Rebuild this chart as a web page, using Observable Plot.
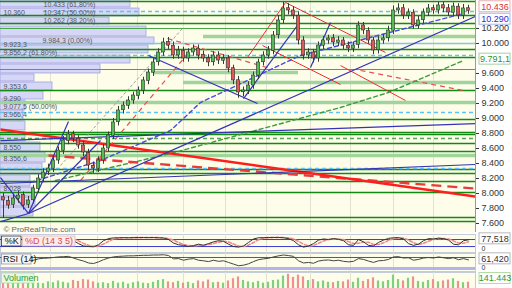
<!DOCTYPE html>
<html><head><meta charset="utf-8">
<script src="https://cdn.jsdelivr.net/npm/d3@7"></script>
<script src="https://cdn.jsdelivr.net/npm/@observablehq/plot@0.6"></script>
<style>
html,body{margin:0;padding:0;background:#fff;}
#chart{position:relative;width:512px;height:288px;overflow:hidden;font-family:"Liberation Sans",Arial,sans-serif;}
#chart > svg{position:absolute;left:0;overflow:visible;}
</style></head><body><div id="chart"></div>
<script>
// ---------- DATA ----------
const opens  = [7950,7900,7850,7930,7980,7850,7910,8060,8200,8290,8330,8440,8570,8700,8790,8730,8640,8540,8370,8330,8440,8600,8770,8950,9110,9170,9240,9300,9370,9500,9610,9750,9880,10020,9970,9840,9900,9800,9880,9930,9850,9800,9750,9840,9770,9800,9670,9510,9350,9370,9440,9570,9750,9840,9900,10110,10310,10470,10440,10370,10040,9840,9880,9800,9970,10040,10070,10010,10040,9970,9930,9980,10240,10170,10040,9910,10040,10070,10170,10440,10470,10370,10410,10240,10310,10410,10470,10440,10510,10470,10410,10490,10370,10470];
const closes = [7907,7840,7933,7973,7840,7907,8067,8200,8280,8333,8440,8573,8707,8787,8733,8640,8547,8373,8333,8440,8600,8773,8947,9107,9173,9240,9307,9373,9507,9613,9747,9880,10013,9973,9840,9907,9800,9880,9933,9840,9800,9747,9840,9773,9800,9667,9507,9347,9373,9440,9573,9747,9840,9907,10107,10307,10467,10440,10373,10040,9840,9880,9800,9973,10040,10067,10013,10040,9973,9933,9973,10240,10173,10040,9907,10040,10067,10173,10440,10467,10373,10413,10240,10307,10413,10467,10440,10507,10467,10413,10493,10373,10467,10436];
const highs  = [8000,7960,7990,8030,8020,7960,8110,8250,8330,8390,8490,8620,8760,8840,8830,8770,8690,8590,8420,8490,8650,8820,9000,9160,9220,9290,9350,9420,9550,9660,9800,9930,10070,10080,10020,9960,9950,9930,9980,9980,9900,9850,9890,9890,9850,9840,9710,9560,9420,9490,9620,9790,9890,9960,10160,10370,10550,10530,10490,10420,10090,9930,9920,10020,10090,10110,10120,10090,10080,10020,10020,10290,10280,10210,10080,10090,10120,10230,10500,10530,10520,10460,10450,10360,10460,10520,10510,10550,10550,10520,10540,10530,10520,10510];
const lows   = [7670,7790,7800,7870,7780,7800,7860,8010,8150,8240,8280,8390,8520,8650,8680,8590,8490,8310,8270,8280,8390,8550,8720,8900,9060,9120,9190,9250,9320,9450,9560,9700,9830,9920,9790,9790,9750,9750,9830,9780,9750,9690,9700,9720,9720,9610,9450,9270,9290,9320,9390,9520,9700,9790,9850,10060,10260,10380,10320,9980,9780,9790,9740,9750,9920,9990,9960,9960,9920,9880,9880,9930,10120,9990,9850,9860,9990,10020,10120,10390,10320,10320,10190,10190,10260,10360,10390,10390,10410,10360,10360,10320,10320,10390];
const volumes = [150,120,180,140,200,130,160,120,110,150,130,170,140,120,180,160,200,190,150,120,130,110,160,120,140,100,130,150,120,110,140,180,200,150,130,160,120,140,110,170,150,190,130,140,120,170,220,260,180,150,130,160,120,140,180,190,280,320,250,300,260,180,200,150,170,140,130,160,150,190,140,230,160,200,240,170,150,180,300,200,170,230,260,160,140,180,200,150,170,190,220,160,130,141.443];
const stochK = [85,80,82,88,75,80,90,92,94,93,95,96,95,90,70,45,25,20,18,35,70,88,94,95,96,95,96,97,97,96,97,95,93,80,50,35,30,20,28,40,30,45,60,70,65,40,20,15,25,55,85,95,96,97,98,98,95,88,70,35,15,25,45,75,85,80,88,82,70,35,30,80,60,30,25,55,75,90,95,96,85,45,30,40,70,88,85,92,88,75,40,35,70,77.518];
const stochD = [83,82,82,84,82,81,85,88,92,93,94,95,95,94,85,68,47,30,21,24,41,64,84,92,95,95,96,96,97,97,97,96,95,89,74,55,38,28,26,29,33,38,45,58,65,58,42,25,20,32,55,78,92,96,97,98,97,94,84,64,40,25,28,48,68,80,84,83,80,62,45,48,57,57,38,37,52,73,87,94,92,75,53,38,47,66,81,88,88,85,68,50,48,61];
const rsi = [52,48,53,55,48,52,60,65,67,68,70,72,73,74,68,62,57,50,48,54,62,68,72,74,75,76,76,77,78,78,79,79,80,77,65,66,60,64,66,60,58,55,60,56,58,52,46,40,42,47,55,62,65,67,72,76,79,77,74,58,50,52,49,57,60,61,58,60,56,54,56,66,63,57,52,58,59,63,72,73,68,69,60,63,68,70,68,72,69,66,69,62,66,61.42];
const monthIdx = [9.4,18.8,26.8,36,44.4,52.6,61.4,69.4,78,86];
const priceTicks = [7600,7800,8000,8200,8400,8600,8800,9000,9200,9400,9600,10000,10200];
// volume profile (price band low, high, volume in bar units)
const profileLo  = [10480,10360,10253,10093,9987,9867,9733,9600,9493,9373,9253,9107,8973,8840,8693,8560,8413,8253,8093,7960,7827,7693];
const profileHi  = [10573,10466,10346,10226,10080,9973,9840,9720,9587,9480,9360,9240,9107,8960,8813,8680,8547,8400,8240,8080,7947,7813];
const profileVol = [25.4,27.2,21.2,28.6,30.2,29,25.4,19.4,6.2,9.8,8,4.4,4,4.4,4.4,7.4,8.4,7.8,5.4,6,6.4,6];
// horizontal levels
const darkGreenLevels = [10560,10373,10267,9920,9813,9373,8987,8813,8787,8667,8560,8320,8267,8160,8013,7680,7627];
const midGreenLevels = [10200,9653];
const lightGreenBands = [[9613,30,59],[9480,36,94.4],[9213,-0.6,94.4],[8507,-0.6,94.4],[10093,40,94.4]];
const blueDashedLevels = [[10427,8],[9840,-0.6],[9080,-0.6],[8333,-0.6]];
const blueSolidLevels = [10000];
const greenDashedLevels = [8733];
// trend lines: [x1, price1, x2, price2]
const redThick = [[-0.6,8853,94.4,7960]];
const redThickDashed = [[9,8506,94.4,8066]];
const redThin = [[48.8,9813,56.4,10546],[56.4,10546,76.4,9880],[51.8,9973,67.4,9453],[67.4,9706,80.4,9240]];
const redThinDashed = [[71.4,9640,92,9373],[32.8,10066,53.4,9666],[15.4,8173,37.4,9906]];
const blueLines = [[5,7733,94.4,10360],[5,7733,13,8960],[5,7733,19.4,8707],[-0.6,7626,5,7733],[-0.6,8213,5,7733],[-0.6,8706,94.4,8933],[-0.6,8133,94.4,8387],[29,9840,50.8,9200],[48,9266,58.8,10240],[61.4,9680,65.4,10280]];
const grayDashed = [[11.4,8373,35.8,10200]];
const greenMAx = [10.4,33.4,67.4,77,92], greenMAy = [8173,8533,9147,9347,9773];
const blueMAx = [5.4,19.4,33.4,39.4,59.4,92], blueMAy = [8147,8440,8840,9213,9840,10400];
const profileLabels = [[8,10510,"10.433 (61,80%)"],[0,10413,"10.360"],[8,10413,"10.347 (50,00%)"],[8,10305,"10.262 (38,20%)"],[7.8,10040,"9.984,3 (0,00%)"],[0,9985,"9.923,3"],[0,9880,"9.856,2 (61,80%)"],[0,9426,"9.353,6"],[0,9266,"9.290"],[0,9155,"9.077,5 (50,00%)"],[0,9045,"8.966,4"],[0,8613,"8.550"],[0,8466,"8.356,6"],[0,8066,"8.028"]];

// ---------- BUILD ----------
const N = closes.length;
const candles = d3.range(N).map(i => ({i, o: opens[i], h: highs[i], l: lows[i], c: closes[i], v: volumes[i], k: stochK[i], d: stochD[i], r: rsi[i]}));
const profile = profileLo.map((lo, j) => ({lo, hi: profileHi[j], v: profileVol[j]}));
const loc = d3.formatLocale({decimal: ",", thousands: ".", grouping: [3], currency: ["", "€"]});
const fmt0 = loc.format(",.0f");
const W = 512, MR = 37, xDom = [-0.6, 94.4];
const font = "Liberation Sans, Arial, sans-serif";
const cream = "#fdfde9";
const seg = (arr, opts) => Plot.link(arr, {x1: d => d[0], y1: d => d[1], x2: d => d[2], y2: d => d[3], clip: true, ...opts});

function box(value, label, color, border, half, dy, fillC) {
  return [
    Plot.rect([value], {x1: 95.2, x2: 101.4, y1: d => d - half, y2: d => d + half, dy, fill: fillC || "#fff", stroke: border, strokeWidth: 1}),
    Plot.text([value], {x: 98.3, y: d => d, dy, text: () => label, fill: color, fontSize: 9, textAnchor: "middle"})
  ];
}

const mainH = 232, priceDom = [7480, 10573];
const pU = (priceDom[1] - priceDom[0]) / mainH;
const main = Plot.plot({
  width: W, height: mainH, marginLeft: 0, marginRight: MR, marginTop: 0, marginBottom: 0,
  x: {domain: xDom, axis: null}, y: {domain: priceDom, axis: null},
  style: {background: "transparent", fontFamily: font},
  marks: [
    Plot.frame({fill: cream}),
    Plot.ruleX(monthIdx, {stroke: "#e2e2d2"}),
    Plot.rect(profile, {x1: -0.6, x2: "v", y1: "lo", y2: "hi", fill: "#d6d6f6", stroke: "#a0a0e0", strokeWidth: 0.8}),
    Plot.ruleY(lightGreenBands, {y: d => d[0], x1: d => d[1], x2: d => d[2], stroke: "#9fd49a", strokeWidth: 3.5}),
    Plot.ruleY(midGreenLevels, {x1: -0.6, x2: 94.4, stroke: "#4aa64a", strokeWidth: 1.2}),
    Plot.ruleY(darkGreenLevels, {x1: -0.6, x2: 94.4, stroke: "#138a13", strokeWidth: 1.6}),
    Plot.ruleY(blueSolidLevels, {x1: -0.6, x2: 94.4, stroke: "#7cc8f0", strokeWidth: 1.4}),
    Plot.ruleY(blueDashedLevels, {y: d => d[0], x1: d => d[1], x2: 94.4, stroke: "#5cc4f4", strokeWidth: 1.4, strokeDasharray: "4,3"}),
    Plot.ruleY(greenDashedLevels, {x1: -0.6, x2: 94.4, stroke: "#52a852", strokeWidth: 1.4, strokeDasharray: "4,3"}),
    seg(grayDashed, {stroke: "#a0a0a0", strokeWidth: 1, strokeDasharray: "3,2"}),
    Plot.line(greenMAx.map((x, j) => [x, greenMAy[j]]), {x: d => d[0], y: d => d[1], stroke: "#3d9a3d", strokeWidth: 1.4, strokeDasharray: "4,3", clip: true}),
    Plot.line(blueMAx.map((x, j) => [x, blueMAy[j]]), {x: d => d[0], y: d => d[1], stroke: "#4a4ae0", strokeWidth: 1.4, strokeDasharray: "4,3", clip: true}),
    seg(redThinDashed, {stroke: "#e85050", strokeWidth: 1.2, strokeDasharray: "5,4"}),
    seg(redThickDashed, {stroke: "#e83c3c", strokeWidth: 2.4, strokeDasharray: "10,6"}),
    seg(redThick, {stroke: "#ff1e1e", strokeWidth: 2.4}),
    seg(redThin, {stroke: "#ee3030", strokeWidth: 1}),
    seg(blueLines, {stroke: "#3434b8", strokeWidth: 1.2}),
    Plot.ruleX(candles, {x: "i", y1: "l", y2: "h", stroke: "#3a3a3a", strokeWidth: 1}),
    Plot.rect(candles, {x1: d => d.i - 0.32, x2: d => d.i + 0.32, y1: d => d.o, y2: d => (Math.abs(d.c - d.o) < 8 ? d.o + 10 : d.c), fill: d => d.c >= d.o ? "#55bb55" : "#e05a5a", stroke: "#2e2e2e", strokeWidth: 0.6}),
    Plot.text(profileLabels, {x: d => d[0], y: d => d[1], text: d => d[2], textAnchor: "start", fill: "#555", fontSize: 7}),
    Plot.text(["© ProRealTime.com"], {frameAnchor: "bottom-left", dx: 3, dy: -1, fill: "#666", fontSize: 8}),
    Plot.axisY(priceTicks, {anchor: "right", tickFormat: fmt0, tickSize: 3, tickPadding: 3, fontSize: 9, color: "#333"}),
    Plot.ruleX([94.4], {stroke: "#999"}),
    ...box(10436, "10.436", "#e03030", "#e8b0b0", 5.5 * pU, -4),
    ...box(10290, "10.290", "#2a2ad0", "#a8b8e8", 5.5 * pU, -2.5),
    ...box(9791.1, "9.791,1", "#2f8f2f", "#a8d0a8", 5.5 * pU, 0)
  ]
});
main.style.top = "0px";

const stH = 18, stDom = [-31, 123], sU = (stDom[1] - stDom[0]) / stH;
const stoch = Plot.plot({
  width: W, height: stH, marginLeft: 0, marginRight: MR, marginTop: 0, marginBottom: 0,
  x: {domain: xDom, axis: null}, y: {domain: stDom, axis: null},
  style: {background: "transparent", fontFamily: font},
  marks: [
    Plot.frame({fill: cream, stroke: "#c4ccdc"}),
    Plot.ruleX(monthIdx, {stroke: "#e2e2d2"}),
    Plot.ruleY([20, 80], {x1: -0.6, x2: 94.4, stroke: "#3c3cd0", strokeWidth: 1}),
    Plot.line(candles, {x: "i", y: "d", stroke: "#f08a8a", strokeWidth: 1.6, strokeDasharray: "3,2", clip: true}),
    Plot.line(candles, {x: "i", y: "k", stroke: "#333", strokeWidth: 1, clip: true}),
    Plot.rect([0], {x1: -0.3, x2: 3.6, y1: stDom[1] - 2 * sU, y2: stDom[1] - 12 * sU, fill: "#f4f4f4", stroke: "#333", strokeWidth: 0.8}),
    Plot.text(["%K"], {x: 1.65, y: stDom[1] - 7 * sU, text: d => d, fill: "#111", fontSize: 9, textAnchor: "middle"}),
    Plot.rect([0], {x1: 3.9, x2: 14.4, y1: stDom[1] - 2 * sU, y2: stDom[1] - 12 * sU, fill: "#fbecec", stroke: "#e8b8b8", strokeWidth: 0.8}),
    Plot.text(["%D (14 3 5)"], {x: 4.3, y: stDom[1] - 7 * sU, text: d => d, fill: "#e04848", fontSize: 9, textAnchor: "start"}),
    ...box(77.518, "77,518", "#333", "#b8b8b8", 5.5 * sU, -1),
    Plot.text(["0"], {x: 95.6, y: stDom[1] - 14.5 * sU, text: d => d, fill: "#333", fontSize: 7, textAnchor: "start"})
  ]
});
stoch.style.top = "234px";

const rH = 18, rDom = [19, 84.5], rU = (rDom[1] - rDom[0]) / rH;
const rsiPlot = Plot.plot({
  width: W, height: rH, marginLeft: 0, marginRight: MR, marginTop: 0, marginBottom: 0,
  x: {domain: xDom, axis: null}, y: {domain: rDom, axis: null},
  style: {background: "transparent", fontFamily: font},
  marks: [
    Plot.frame({fill: cream, stroke: "#c4ccdc"}),
    Plot.ruleX(monthIdx, {stroke: "#e2e2d2"}),
    Plot.ruleY([30], {x1: -0.6, x2: 94.4, stroke: "#b4b4ec", strokeWidth: 3}),
    Plot.ruleY([70], {x1: -0.6, x2: 94.4, stroke: "#4a4ad4", strokeWidth: 1}),
    Plot.line(candles, {x: "i", y: "r", stroke: "#444", strokeWidth: 1, clip: true}),
    Plot.rect([0], {x1: -0.3, x2: 5.6, y1: rDom[1] - 1 * rU, y2: rDom[1] - 11 * rU, fill: "#f6f6f6", stroke: "#999", strokeWidth: 0.8}),
    Plot.text(["RSI (14)"], {x: -0.1, y: rDom[1] - 6 * rU, text: d => d, fill: "#111", fontSize: 9, textAnchor: "start"}),
    ...box(61.42, "61,420", "#333", "#b8b8b8", 5.5 * rU, -1),
    Plot.text(["0"], {x: 95.6, y: rDom[1] - 14 * rU, text: d => d, fill: "#333", fontSize: 7, textAnchor: "start"})
  ]
});
rsiPlot.style.top = "253px";

const vH = 16, vDom = [0, 360], vU = (vDom[1] - vDom[0]) / vH;
const volPlot = Plot.plot({
  width: W, height: vH, marginLeft: 0, marginRight: MR, marginTop: 0, marginBottom: 0,
  x: {domain: xDom, axis: null}, y: {domain: vDom, axis: null},
  style: {background: "transparent", fontFamily: font},
  marks: [
    Plot.frame({fill: cream, stroke: "#c4ccdc"}),
    Plot.ruleX(monthIdx, {stroke: "#e2e2d2"}),
    Plot.rect(candles, {x1: d => d.i - 0.22, x2: d => d.i + 0.22, y1: 0, y2: "v", fill: d => d.c >= d.o ? "#7fd07f" : "#f09090"}),
    Plot.rect([0], {x1: -0.3, x2: 6.2, y1: vDom[1] - 1 * vU, y2: vDom[1] - 11 * vU, fill: "#eaf7e2", stroke: "#b4dca4", strokeWidth: 0.8}),
    Plot.text(["Volumen"], {x: 0, y: vDom[1] - 6 * vU, text: d => d, fill: "#2f9a2f", fontSize: 9, textAnchor: "start"}),
    ...box(vDom[1] - 6 * vU, "141.443", "#2f9a2f", "#b4dca4", 5.5 * vU, 0)
  ]
});
volPlot.style.top = "272px";

const root = document.getElementById("chart");
[main, stoch, rsiPlot, volPlot].forEach(p => root.appendChild(p));
</script></body></html>
